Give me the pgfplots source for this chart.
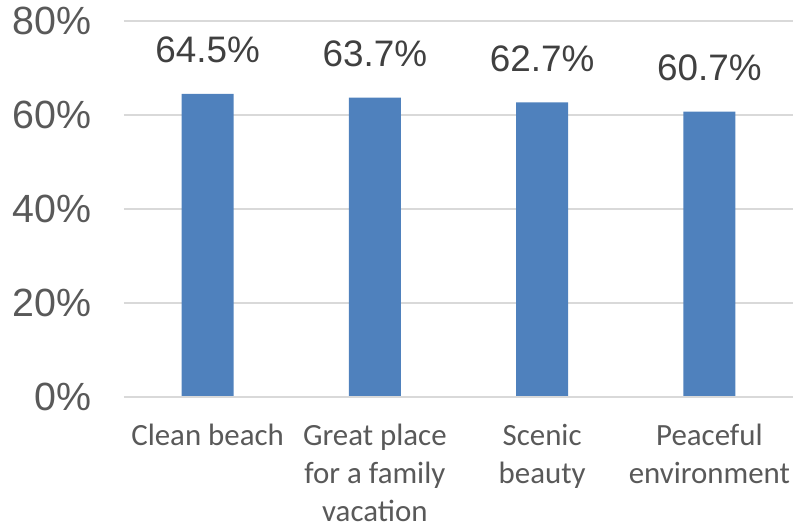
\documentclass[border=0pt]{standalone}
\usepackage{pgfplots}
\pgfplotsset{compat=1.18}
\usepackage{fontspec}
\setmainfont{Liberation Sans}
\newfontfamily\calibri{Carlito}
\definecolor{barblue}{HTML}{4F81BD}
\definecolor{gridgray}{HTML}{D9D9D9}
\definecolor{txtgray}{HTML}{595959}
\begin{document}
\begin{tikzpicture}
\path[use as bounding box] (-124bp,-131bp) rectangle (674bp,397bp);
\begin{axis}[
  scale only axis,
  width=669bp, height=376bp,
  xmin=-0.5, xmax=3.5,
  ymin=0, ymax=80,
  ytick={0,20,40,60,80},
  yticklabel={\pgfmathprintnumber{\tick}\%},
  /pgf/number format/assume math mode=true,
  yticklabel style={font=\fontsize{39.5}{42}\selectfont, text=txtgray, anchor=east, xshift=-29bp},
  xtick={0,1,2,3},
  xticklabels={Clean beach, Great place\\for a family\\vacation, Scenic\\beauty, Peaceful\\environment},
  xticklabel style={font=\calibri\fontsize{31}{38}\selectfont, text=txtgray, align=center, anchor=north, yshift=-24bp},
  major tick length=0pt,
  axis line style={draw=none},
  ymajorgrids, grid style={gridgray, line width=1.3bp},
  ybar, bar width=52bp,
  nodes near coords={\pgfmathprintnumber[fixed,fixed zerofill,precision=1]{\pgfplotspointmeta}\%},
  nodes near coords style={font=\fontsize{37}{40}\selectfont, text=black!75, anchor=base, yshift=31bp, inner sep=0pt},
  clip=false,
]
\addplot[fill=barblue, draw=none] coordinates {(0,64.5) (1,63.7) (2,62.7) (3,60.7)};
\draw[gridgray, line width=1.5bp] (rel axis cs:0,0) -- (rel axis cs:1,0);
\end{axis}
\end{tikzpicture}
\end{document}
